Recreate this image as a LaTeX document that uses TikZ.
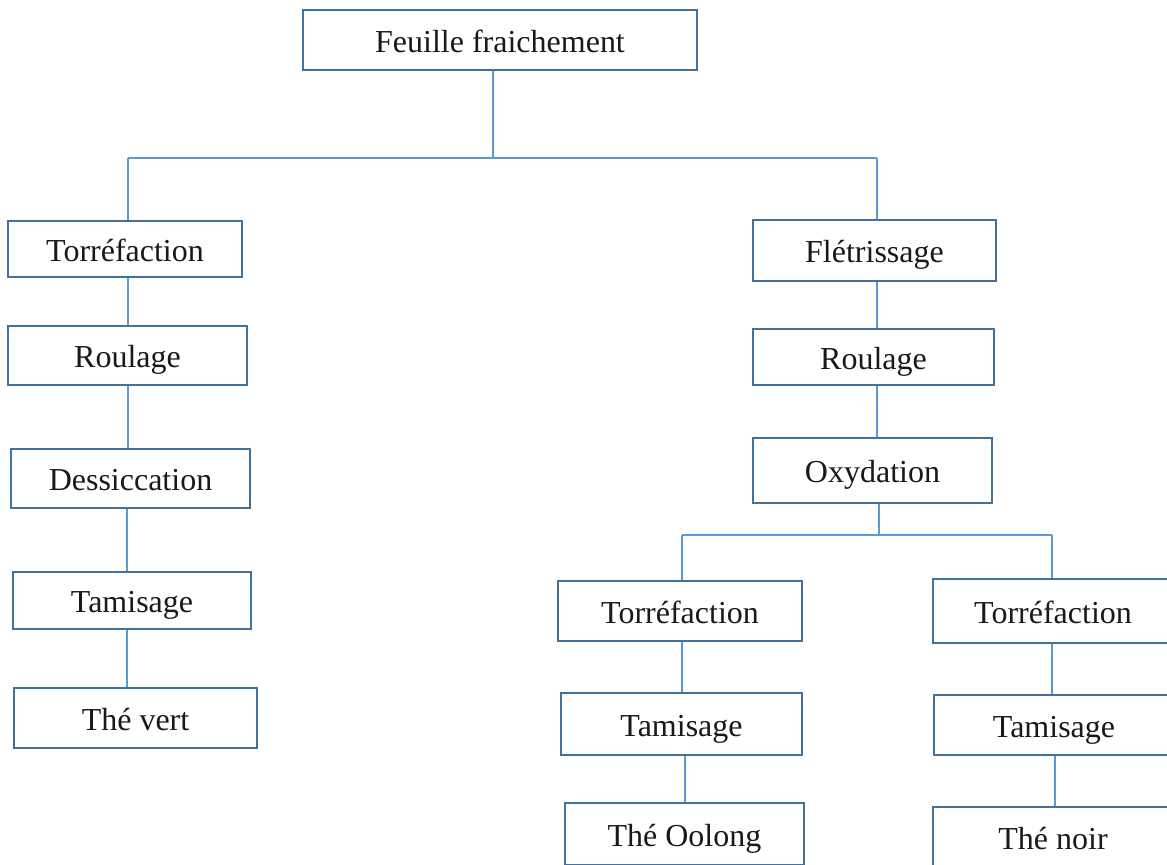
\documentclass[tikz,border=0pt]{standalone}
\usepackage{fontspec}
\setmainfont{Liberation Serif}
\definecolor{boxline}{HTML}{41719C}
\definecolor{linkline}{HTML}{5B9BD5}
\begin{document}
\begin{tikzpicture}[x=0.75pt,y=-0.75pt,
  stepbox/.style={draw=boxline,line width=1.9pt,fill=white,rectangle,inner sep=0pt,
    font=\fontsize{24}{28}\selectfont,text=black!90,text height=20.4pt,text depth=2.4pt},
  link/.style={draw=linkline,line width=0.8pt}]
\useasboundingbox (0,0) rectangle (1167,864);
\clip (0,0) rectangle (1167,864);
% boxes
\node[stepbox,minimum width=394*0.75pt,minimum height=60*0.75pt] (top) at (500,40) {Feuille fraichement};
\node[stepbox,minimum width=234*0.75pt,minimum height=56*0.75pt] (t1) at (125,249) {Torréfaction};
\node[stepbox,minimum width=239*0.75pt,minimum height=59*0.75pt] (r1) at (127.5,355.5) {Roulage};
\node[stepbox,minimum width=239*0.75pt,minimum height=59*0.75pt] (d1) at (130.5,478.5) {Dessiccation};
\node[stepbox,minimum width=238*0.75pt,minimum height=57*0.75pt] (ta1) at (132,600.5) {Tamisage};
\node[stepbox,minimum width=243*0.75pt,minimum height=60*0.75pt] (v) at (135.5,718) {Thé vert};
\node[stepbox,minimum width=243*0.75pt,minimum height=61*0.75pt] (f) at (874.5,250.5) {Flétrissage};
\node[stepbox,minimum width=241*0.75pt,minimum height=56*0.75pt] (r2) at (873.5,357) {Roulage};
\node[stepbox,minimum width=239*0.75pt,minimum height=65*0.75pt] (o) at (872.5,470.5) {Oxydation};
\node[stepbox,minimum width=244*0.75pt,minimum height=60*0.75pt] (t2) at (680,611) {Torréfaction};
\node[stepbox,minimum width=241*0.75pt,minimum height=62*0.75pt] (ta2) at (681.5,724) {Tamisage};
\node[stepbox,minimum width=239*0.75pt,minimum height=62*0.75pt] (oo) at (684.5,834) {Thé Oolong};
\node[stepbox,minimum width=240*0.75pt,minimum height=64*0.75pt] (t3) at (1053,611) {Torréfaction};
\node[stepbox,minimum width=240*0.75pt,minimum height=60*0.75pt] (ta3) at (1054,725) {Tamisage};
\node[stepbox,minimum width=240*0.75pt,minimum height=60*0.75pt] (n) at (1053,837) {Thé noir};
% junction coordinates
\coordinate (jtop) at (493,158);
\coordinate (jl) at (128,158);
\coordinate (jr) at (877,158);
\coordinate (jo) at (879,535);
\coordinate (jol) at (682,535);
\coordinate (jor) at (1052,535);
% connectors
\draw[link] (top.south -| jtop) -- (jtop);
\draw[link] (jl) -- (jr);
\draw[link] (jl) -- (t1.north -| jl);
\draw[link] (jr) -- (f.north -| jr);
\draw[link] (t1.south -| jl) -- (r1.north -| jl);
\draw[link] (r1.south -| jl) -- (d1.north -| jl);
\draw[link] ([xshift=-0.75pt]d1.south -| jl) -- ([xshift=-0.75pt]ta1.north -| jl);
\draw[link] ([xshift=-0.75pt]ta1.south -| jl) -- ([xshift=-0.75pt]v.north -| jl);
\draw[link] (f.south -| jr) -- (r2.north -| jr);
\draw[link] (r2.south -| jr) -- (o.north -| jr);
\draw[link] (o.south -| jo) -- (jo);
\draw[link] (jol) -- (jor);
\draw[link] (jol) -- (t2.north -| jol);
\draw[link] (jor) -- (t3.north -| jor);
\draw[link] (t2.south -| jol) -- (ta2.north -| jol);
\draw[link] ([xshift=2.25pt]ta2.south -| jol) -- ([xshift=2.25pt]oo.north -| jol);
\draw[link] (t3.south -| jor) -- (ta3.north -| jor);
\draw[link] ([xshift=2.25pt]ta3.south -| jor) -- ([xshift=2.25pt]n.north -| jor);
\end{tikzpicture}
\end{document}
